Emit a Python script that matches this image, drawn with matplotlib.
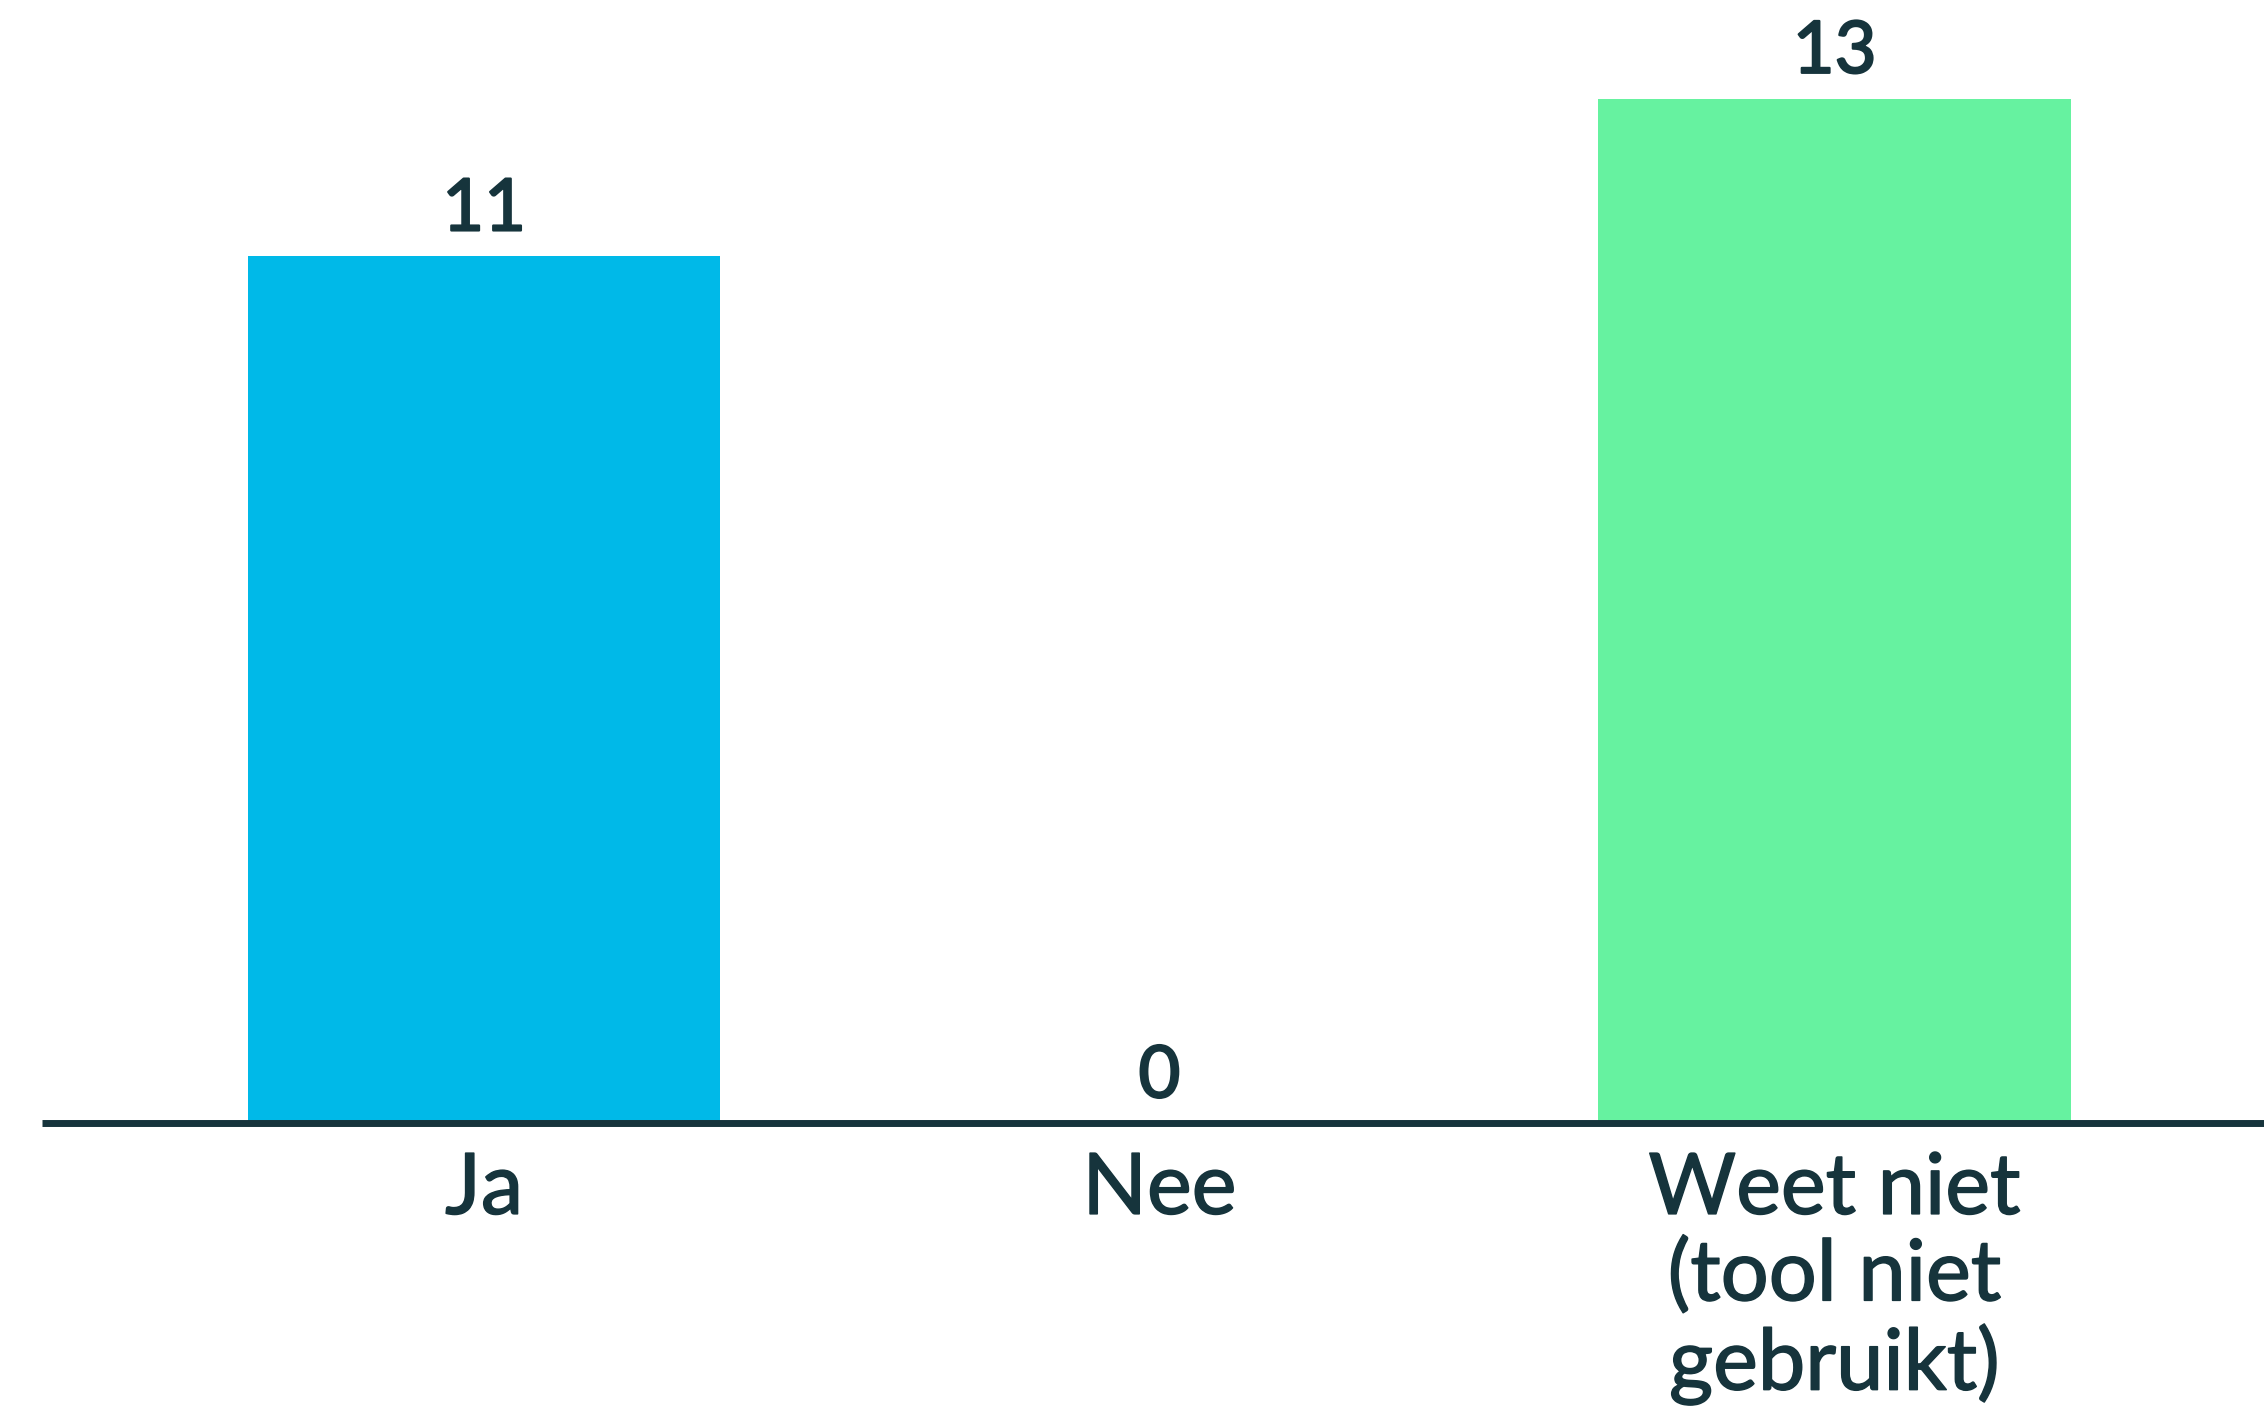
import matplotlib.pyplot as plt
import matplotlib.patheffects as pe

categories = ["Ja", "Nee", "Weet niet\n(tool niet\ngebruikt)"]
values = [11, 0, 13]
colors = ["#00b9e8", "#e6007e", "#66f2a0"]

ink = "#16343c"
plt.rcParams['font.family'] = ['Lato', 'DejaVu Sans']

fig = plt.figure(figsize=(22.64, 14.07), dpi=100)
ax = fig.add_axes([0.0185, 0.2018, 0.9815, 0.7982])

x = range(len(categories))
ax.bar(x, values, width=0.7, color=colors, zorder=2)

for xi, v in zip(x, values):
    ax.annotate(str(v), (xi, v), xytext=(0, 18.5), textcoords="offset points",
                ha="center", va="baseline", fontsize=52, color=ink,
                path_effects=[pe.withStroke(linewidth=1.6, foreground=ink)])

ax.set_xlim(-0.655, 2.636)
ax.set_ylim(0, 14.25)

ax.set_xticks(list(x))
ax.set_xticklabels(categories, fontsize=61, color=ink, linespacing=1.12)
for lbl in ax.get_xticklabels():
    lbl.set_path_effects([pe.withStroke(linewidth=1.1, foreground=ink)])
ax.tick_params(axis="x", length=0, pad=20)
ax.set_yticks([])

for s in ["top", "right", "left"]:
    ax.spines[s].set_visible(False)
ax.spines["bottom"].set_color(ink)
ax.spines["bottom"].set_linewidth(5)
ax.spines["bottom"].set_capstyle("butt")
ax.spines["bottom"].set_zorder(3)

fig.savefig("out.png", dpi=100)
